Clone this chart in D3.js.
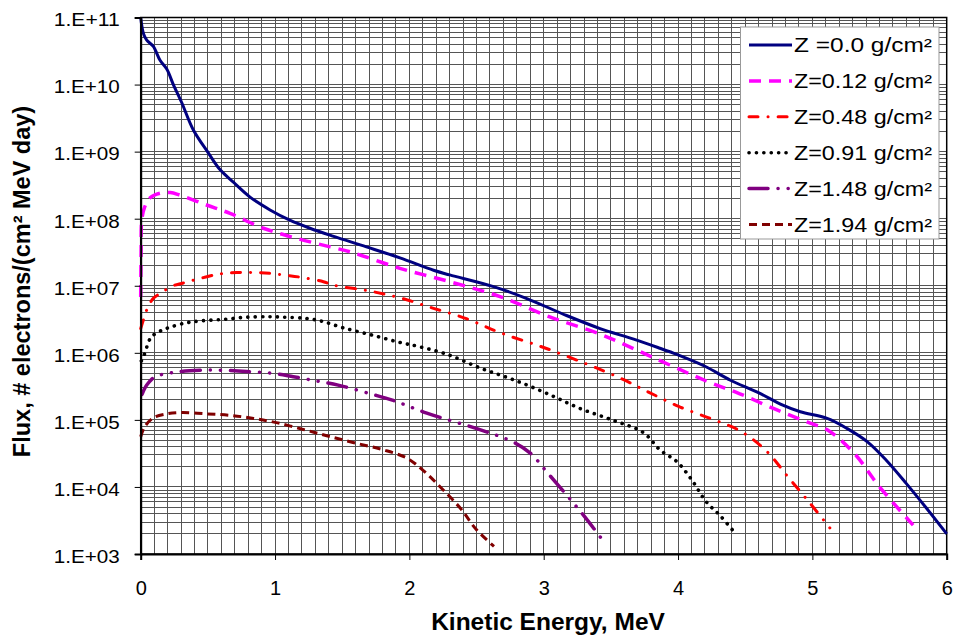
<!DOCTYPE html>
<html>
<head>
<meta charset="utf-8">
<script src="https://cdn.jsdelivr.net/npm/d3@7"></script>
<style>
  html, body { margin: 0; padding: 0; background: #fff; }
  svg { display: block; font-family: "Liberation Sans", Arial, sans-serif; }
</style>
</head>
<body>
<svg id="chart" width="959" height="641"></svg>
<script>
// ---------------- DATA ----------------
const xTicks = [0, 1, 2, 3, 4, 5, 6];
const yTicks = [1e3, 1e4, 1e5, 1e6, 1e7, 1e8, 1e9, 1e10, 1e11];
const yTickLabels = ["1.E+03","1.E+04","1.E+05","1.E+06","1.E+07","1.E+08","1.E+09","1.E+10","1.E+11"];
const seriesNames = ["Z =0.0 g/cm²","Z=0.12 g/cm²","Z=0.48 g/cm²","Z=0.91 g/cm²","Z=1.48 g/cm²","Z=1.94 g/cm²"];

const energyZ000 = [0, 0.02, 0.045, 0.094, 0.144, 0.194, 0.243, 0.305, 0.392, 0.503, 0.59, 0.69, 0.814, 0.963, 1.11, 1.26, 1.43, 1.68, 1.93, 2.18, 2.30, 2.62, 2.87, 3.17, 3.42, 3.67, 3.85, 4.0, 4.2, 4.39, 4.59, 4.78, 4.91, 5.11, 5.26, 5.41, 5.55, 5.70, 5.85, 6.0];
const fluxZ000   = [1.0e11, 5.8e10, 4.6e10, 3.7e10, 2.3e10, 1.7e10, 1.0e10, 5.4e9, 2.1e9, 9.6e8, 5.4e8, 3.5e8, 2.1e8, 1.35e8, 9.5e7, 7.2e7, 5.5e7, 3.8e7, 2.6e7, 1.7e7, 1.45e7, 9.8e6, 6.5e6, 3.6e6, 2.3e6, 1.6e6, 1.2e6, 9.3e5, 6.3e5, 3.9e5, 2.6e5, 1.66e5, 1.32e5, 1.05e5, 7.4e4, 4.7e4, 2.5e4, 1.12e4, 4.8e3, 2.0e3];

const energyZ012 = [0, 0.003, 0.008, 0.03, 0.07, 0.144, 0.22, 0.29, 0.49, 0.665, 0.913, 1.16, 1.41, 1.56, 1.93, 2.30, 2.675, 3.05, 3.42, 3.67, 4.21, 4.46, 4.71, 4.96, 5.11, 5.31, 5.50, 5.75];
const fluxZ012   = [6.8e6, 3.2e7, 9.5e7, 1.5e8, 2.05e8, 2.4e8, 2.45e8, 2.25e8, 1.6e8, 1.2e8, 7.2e7, 5.1e7, 3.8e7, 3.2e7, 1.82e7, 1.15e7, 6.9e6, 3.4e6, 1.9e6, 1.15e6, 3.8e5, 2.45e5, 1.48e5, 9.3e4, 7.1e4, 3.2e4, 1.0e4, 2.7e3];

const energyZ048 = [0, 0.02, 0.05, 0.094, 0.156, 0.23, 0.317, 0.466, 0.59, 0.715, 0.84, 0.963, 1.087, 1.21, 1.36, 1.434, 1.683, 1.93, 2.18, 2.43, 2.675, 3.0, 3.32, 3.57, 3.78, 4.0, 4.24, 4.46, 4.66, 4.82, 4.98, 5.13];
const fluxZ048   = [2.3e6, 3.1e6, 4.6e6, 6.5e6, 7.9e6, 9.8e6, 1.1e7, 1.32e7, 1.5e7, 1.57e7, 1.58e7, 1.53e7, 1.43e7, 1.32e7, 1.15e7, 1.02e7, 8.5e6, 6.6e6, 4.6e6, 3.2e6, 2.0e6, 1.2e6, 6.8e5, 4.2e5, 2.6e5, 1.6e5, 1.05e5, 6.9e4, 3.4e4, 1.4e4, 5.8e3, 2.45e3];

const energyZ091 = [0.005, 0.017, 0.037, 0.054, 0.08, 0.124, 0.176, 0.23, 0.34, 0.454, 0.615, 0.79, 0.963, 1.06, 1.236, 1.35, 1.51, 1.73, 1.94, 2.055, 2.28, 2.53, 2.77, 3.02, 3.27, 3.52, 3.74, 3.87, 3.99, 4.10, 4.21, 4.31, 4.42];
const fluxZ091   = [7.6e5, 8.5e5, 1.07e6, 1.38e6, 1.74e6, 2.0e6, 2.24e6, 2.45e6, 2.8e6, 3.0e6, 3.15e6, 3.4e6, 3.45e6, 3.4e6, 3.25e6, 2.95e6, 2.35e6, 1.82e6, 1.41e6, 1.26e6, 9.5e5, 5.9e5, 4.0e5, 2.5e5, 1.48e5, 9.8e4, 6.5e4, 3.5e4, 2.4e4, 1.29e4, 6.0e3, 3.8e3, 2.1e3];

const energyZ148 = [0.01, 0.045, 0.106, 0.198, 0.29, 0.454, 0.615, 0.79, 0.963, 1.136, 1.31, 1.47, 1.71, 1.88, 2.13, 2.53, 2.77, 2.90, 3.02, 3.17, 3.30, 3.43];
const fluxZ148   = [2.4e5, 3.3e5, 4.4e5, 4.9e5, 5.25e5, 5.5e5, 5.5e5, 5.25e5, 5.0e5, 4.4e5, 3.8e5, 3.3e5, 2.45e5, 1.95e5, 1.26e5, 7.1e4, 4.7e4, 3.2e4, 1.7e4, 7.6e3, 3.7e3, 1.7e3];

const energyZ194 = [0, 0.03, 0.094, 0.194, 0.305, 0.49, 0.665, 0.84, 1.01, 1.21, 1.385, 1.58, 1.80, 1.98, 2.10, 2.23, 2.38, 2.50, 2.63];
const fluxZ194   = [5.6e4, 7.9e4, 1.07e5, 1.23e5, 1.29e5, 1.23e5, 1.17e5, 1.05e5, 9.1e4, 7.2e4, 5.8e4, 4.6e4, 3.6e4, 2.7e4, 1.78e4, 1.0e4, 4.8e3, 2.3e3, 1.3e3];

// ---------------- STYLES ----------------
const styles = [
  { color: "#000080", width: 3,   dash: null,                    cap: "butt"  },
  { color: "#FF00FF", width: 3.5, dash: "12,8",                  cap: "butt"  },
  { color: "#FF0000", width: 3,   dash: "9,10,0.1,10",           cap: "round" },
  { color: "#000000", width: 3.6, dash: "0.1,7.3",               cap: "round" },
  { color: "#800080", width: 3.5, dash: "19,10,0.1,10,0.1,10",   cap: "round" },
  { color: "#800000", width: 3,   dash: "8,5",                   cap: "butt"  }
];

const series = [
  [energyZ000, fluxZ000], [energyZ012, fluxZ012], [energyZ048, fluxZ048],
  [energyZ091, fluxZ091], [energyZ148, fluxZ148], [energyZ194, fluxZ194]
].map(([e, f], i) => ({ name: seriesNames[i], pts: e.map((v, j) => [v, f[j]]), style: styles[i] }));

// ---------------- LAYOUT ----------------
const svg = d3.select("#chart");
const L = 140.7, R = 946.7, T = 17.5, B = 554;
const x = d3.scaleLinear().domain([0, 6]).range([L, R]);
const y = d3.scaleLog().domain([1e3, 1e11]).range([B, T]);

// grid
const grid = svg.append("g").attr("shape-rendering", "crispEdges");
const vGrid = d3.range(1, 60).map(i => i / 10);
grid.selectAll("line.v").data(vGrid).join("line")
  .attr("x1", d => x(d)).attr("x2", d => x(d)).attr("y1", T).attr("y2", B)
  .attr("stroke", "#555").attr("stroke-width", 1);
const hGrid = [];
for (let d = 3; d <= 10; d++) for (let m = 1; m <= 9; m++) hGrid.push(m * Math.pow(10, d));
grid.selectAll("line.h").data(hGrid).join("line")
  .attr("x1", L).attr("x2", R).attr("y1", d => y(d)).attr("y2", d => y(d))
  .attr("stroke", "#555").attr("stroke-width", 1);

// frame
svg.append("rect").attr("x", L).attr("y", T).attr("width", R - L).attr("height", B - T)
  .attr("fill", "none").attr("stroke", "#000").attr("stroke-width", 1.5);

// lines
const line = d3.line().x(d => x(d[0])).y(d => y(d[1])).curve(d3.curveCatmullRom.alpha(0.5));
svg.append("g").selectAll("path").data(series).join("path")
  .attr("d", d => line(d.pts))
  .attr("fill", "none")
  .attr("stroke", d => d.style.color)
  .attr("stroke-width", d => d.style.width)
  .attr("stroke-dasharray", d => d.style.dash)
  .attr("stroke-linecap", d => d.style.cap)
  .attr("stroke-linejoin", "round");

// axes
const yAxis = d3.axisLeft(y).tickValues(yTicks).tickSize(6).tickPadding(15)
  .tickFormat((d, i) => yTickLabels[i]);
const gy = svg.append("g").attr("transform", `translate(${L},0)`).call(yAxis);
gy.select(".domain").attr("stroke", "#000").attr("stroke-width", 2);
gy.selectAll(".tick line").attr("stroke", "#000").attr("stroke-width", 1);
gy.selectAll(".tick text").attr("font-size", 18.5).attr("fill", "#000")
  .attr("font-family", "'Liberation Sans', Arial, sans-serif")
  .attr("dy", "0.45em").attr("textLength", 66).attr("lengthAdjust", "spacingAndGlyphs");

const xAxis = d3.axisBottom(x).tickValues(xTicks).tickSize(6).tickFormat(d3.format("d"));
const gx = svg.append("g").attr("transform", `translate(0,${B})`).call(xAxis);
gx.select(".domain").attr("stroke", "#000").attr("stroke-width", 2);
gx.selectAll(".tick line").attr("stroke", "#000").attr("stroke-width", 1);
gx.selectAll(".tick text").attr("font-size", 20).attr("fill", "#000")
  .attr("font-family", "'Liberation Sans', Arial, sans-serif")
  .attr("y", 41).attr("dy", 0);

// axis titles
svg.append("text").attr("x", 548).attr("y", 630).attr("text-anchor", "middle")
  .attr("font-size", 24.5).attr("font-weight", "bold").attr("fill", "#000")
  .text("Kinetic Energy, MeV");
svg.append("text").attr("transform", "translate(30,281.5) rotate(-90)").attr("text-anchor", "middle")
  .attr("font-size", 23.5).attr("font-weight", "bold").attr("fill", "#000")
  .text("Flux, # electrons/(cm² MeV day)");

// legend
const lg = svg.append("g");
lg.append("rect").attr("x", 740.5).attr("y", 27).attr("width", 198.5).attr("height", 212)
  .attr("fill", "#fff").attr("stroke", "#999").attr("stroke-width", 1);
const items = lg.selectAll("g.item").data(series).join("g")
  .attr("transform", (d, i) => `translate(0,${52.3 + i * 35.9})`);
items.append("line").attr("x1", 749).attr("x2", 792).attr("y1", -7.3).attr("y2", -7.3)
  .attr("stroke", d => d.style.color)
  .attr("stroke-width", d => d.style.width)
  .attr("stroke-dasharray", d => d.style.dash)
  .attr("stroke-linecap", d => d.style.cap);
items.append("text").attr("x", 794).attr("y", 0)
  .attr("font-size", 19.5).attr("fill", "#000")
  .attr("textLength", 138).attr("lengthAdjust", "spacingAndGlyphs")
  .text(d => d.name);
</script>
</body>
</html>
